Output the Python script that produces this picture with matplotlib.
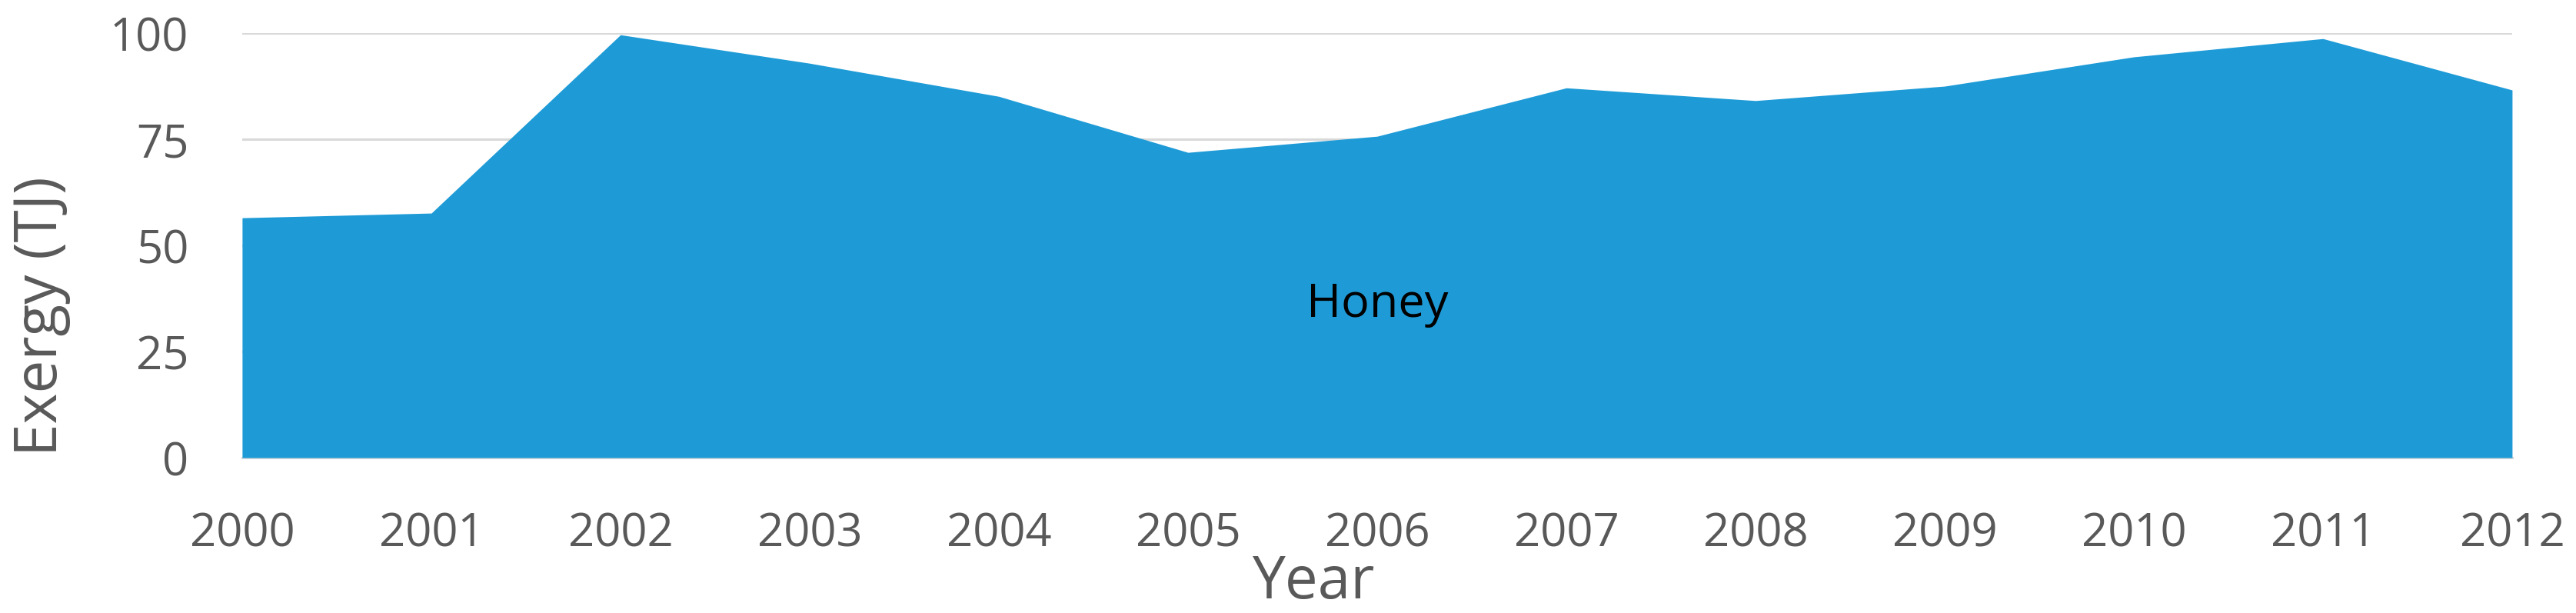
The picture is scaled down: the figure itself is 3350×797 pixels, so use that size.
import numpy as np
import matplotlib.pyplot as plt

# data
years = [2000, 2001, 2002, 2003, 2004, 2005, 2006, 2007, 2008, 2009, 2010, 2011, 2012]
honey = [56.5, 57.6, 99.6, 92.9, 85.1, 71.9, 75.7, 87.1, 84.1, 87.5, 94.4, 98.7, 86.6]
yticks = [0, 25, 50, 75, 100]

fill_col = '#1E9BD7'
grid_col = '#D9D9D9'
text_col = '#595959'

plt.rcParams['font.family'] = ['Open Sans', 'DejaVu Sans']

fig = plt.figure(figsize=(33.5, 7.97), dpi=100)
ax = fig.add_axes([0.094, 0.2534, 0.9752 - 0.094, 0.946 - 0.2534])

ax.fill_between(years, honey, 0, color=fill_col, linewidth=0, zorder=2)
ax.text(2006, 36, 'Honey', ha='center', va='center', fontsize=44, color='black', zorder=3)

ax.set_xlim(years[0], years[-1])
ax.set_ylim(0, 100)
ax.set_xticks(years)
ax.set_yticks(yticks)
ax.set_xticklabels([str(y) for y in years])
ax.tick_params(axis='both', length=0, labelsize=43, colors=text_col)
ax.tick_params(axis='y', pad=50)
ax.tick_params(axis='x', pad=50)

ax.grid(axis='y', color=grid_col, linewidth=2.2, zorder=1)
ax.set_axisbelow(True)
for s in ['top', 'right', 'left']:
    ax.spines[s].set_visible(False)
ax.spines['bottom'].set_color(grid_col)
ax.spines['bottom'].set_linewidth(2.2)
ax.spines['bottom'].set_zorder(1)

ax.set_xlabel('Year', fontsize=55, color=text_col)
ax.set_ylabel('Exergy (TJ)', fontsize=55, color=text_col)
ax.xaxis.set_label_coords(0.472, -0.226)
ax.yaxis.set_label_coords(-0.0755, 0.333)

fig.savefig('out.png', dpi=100)
